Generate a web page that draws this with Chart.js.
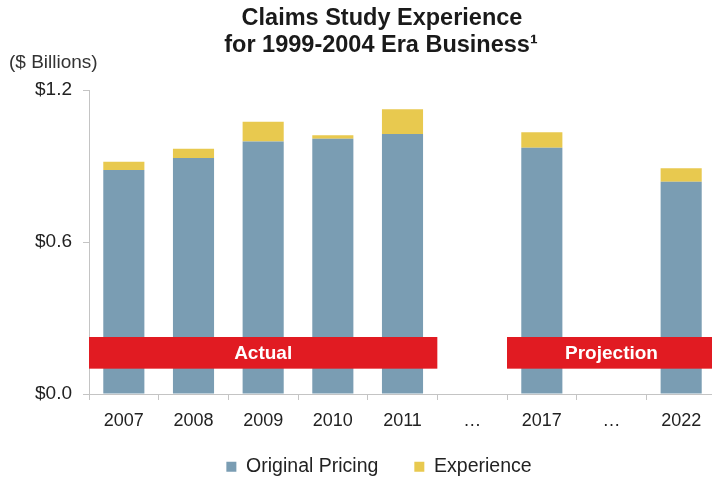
<!DOCTYPE html>
<html><head><meta charset="utf-8">
<script src="https://cdn.jsdelivr.net/npm/chart.js@4/dist/chart.umd.min.js"></script>
<style>
html,body{margin:0;padding:0;background:#fff;overflow:hidden;}
#wrap{position:relative;width:716px;height:478px;}
</style></head><body>
<div id="wrap"><canvas id="c" width="716" height="478"></canvas></div>
<script>
const categories = ['2007','2008','2009','2010','2011','…','2017','…','2022'];
const originalPricing = [0.884, 0.932, 0.997, 1.008, 1.026, null, 0.972, null, 0.838];
const experience      = [0.033, 0.036, 0.078, 0.013, 0.098, null, 0.061, null, 0.053];
const yTickValues = [0, 0.6, 1.2];
const titleLines = ['Claims Study Experience', 'for 1999-2004 Era Business¹'];
const unitLabel = '($ Billions)';
const periodLabels = ['Actual', 'Projection'];
const periodFrom = [0, 6];
const periodTo = [4, 8];

const FONT = '"Liberation Sans", Arial, Helvetica, sans-serif';

const bannerPlugin = {
  id: 'banners',
  afterDatasetsDraw(chart, args, opts) {
    const {ctx, scales: {x, y}} = chart;
    const half = (x.getPixelForValue(1) - x.getPixelForValue(0)) / 2;
    const top = y.getPixelForValue(opts.high);
    const bottom = y.getPixelForValue(opts.low);
    ctx.save();
    periodLabels.forEach((lab, i) => {
      const l = x.getPixelForValue(periodFrom[i]) - half;
      const r = x.getPixelForValue(periodTo[i]) + half;
      ctx.fillStyle = '#e11b22';
      ctx.fillRect(l, top, r - l, bottom - top);
      ctx.fillStyle = '#ffffff';
      ctx.font = 'bold 19px ' + FONT;
      ctx.textAlign = 'center';
      ctx.textBaseline = 'middle';
      ctx.fillText(lab, (l + r) / 2, (top + bottom) / 2 + 1);
    });
    ctx.restore();
  }
};

const titlePlugin = {
  id: 'titleText',
  afterDraw(chart) {
    const ctx = chart.ctx;
    ctx.save();
    ctx.fillStyle = '#1a1a1a';
    ctx.font = 'bold 23.5px ' + FONT;
    ctx.textAlign = 'center';
    ctx.textBaseline = 'alphabetic';
    ctx.fillText(titleLines[0], 382, 25);
    ctx.fillText(titleLines[1], 381, 52);
    ctx.font = '19px ' + FONT;
    ctx.fillStyle = '#333333';
    ctx.textAlign = 'left';
    ctx.textBaseline = 'middle';
    ctx.fillText(unitLabel, 9, 63);
    ctx.restore();
  }
};

// nudges the legend box after layout (spacing between items needs a large padding)
const legendShift = {
  id: 'legendShift',
  afterLayout(chart, args, opts) {
    const lg = chart.legend;
    if (!lg) return;
    lg.left += opts.dx; lg.right += opts.dx;
    lg.top += opts.dy; lg.bottom += opts.dy;
  }
};

new Chart(document.getElementById('c'), {
  type: 'bar',
  data: {
    labels: categories,
    datasets: [
      { label: 'Original Pricing', data: originalPricing, backgroundColor: '#7a9db3', stack: 's' },
      { label: 'Experience', data: experience, backgroundColor: '#e8c94f', stack: 's' }
    ]
  },
  options: {
    responsive: false,
    animation: false,
    devicePixelRatio: 1,
    layout: { padding: { left: 30, right: 0, top: 90, bottom: -21.5 } },
    datasets: { bar: { barPercentage: 0.59, categoryPercentage: 1.0 } },
    scales: {
      x: {
        stacked: true,
        grid: { display: true, drawOnChartArea: false, drawTicks: true, tickLength: 6, color: '#c4c4c4', offset: true },
        border: { display: true, color: '#c4c4c4' },
        ticks: { color: '#222', font: { family: FONT, size: 18 }, padding: 10, autoSkip: false, maxRotation: 0 },
        afterFit(s) { s.height = 40; }
      },
      y: {
        stacked: true,
        min: 0, max: 1.2,
        afterBuildTicks(s) { s.ticks = yTickValues.map(v => ({ value: v })); },
        grid: { display: true, drawOnChartArea: false, drawTicks: true, tickLength: 6, color: '#c4c4c4' },
        border: { display: true, color: '#c4c4c4' },
        ticks: { color: '#222', font: { family: FONT, size: 19 }, padding: 11, callback: v => '$' + Number(v).toFixed(1) },
        afterFit(s) { s.width = 59; }
      }
    },
    plugins: {
      legend: {
        position: 'bottom',
        labels: { boxWidth: 10, boxHeight: 10, padding: 36, color: '#222', font: { family: FONT, size: 19.5 } }
      },
      tooltip: { enabled: false },
      banners: { low: 0.1, high: 0.225 },
      legendShift: { dx: 6, dy: -13 }
    }
  },
  plugins: [bannerPlugin, titlePlugin, legendShift]
});
</script>
</body></html>
